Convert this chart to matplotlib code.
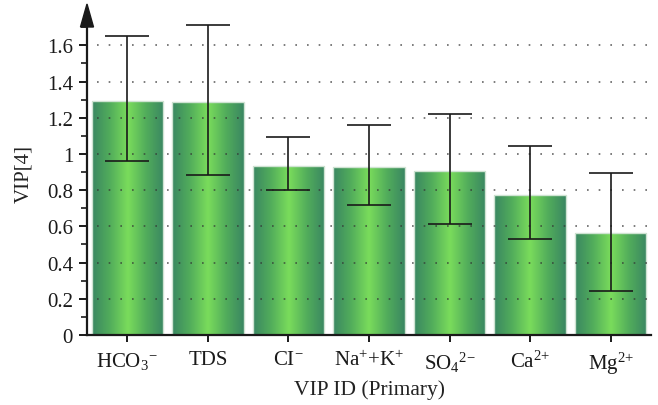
import numpy as np
import matplotlib
matplotlib.use("Agg")
import matplotlib.pyplot as plt
from matplotlib.colors import LinearSegmentedColormap
from matplotlib.patches import Polygon

plt.rcParams['font.family'] = ['Liberation Serif', 'DejaVu Serif']
plt.rcParams['mathtext.fontset'] = 'custom'
plt.rcParams['mathtext.rm'] = 'Liberation Serif'
plt.rcParams['mathtext.it'] = 'Liberation Serif:italic'
plt.rcParams['mathtext.default'] = 'regular'

categories = [r'HCO$_3$$^{{-}}$', 'TDS', r'CI$^{{-}}$', r'Na$^{{+}}$+K$^{{+}}$',
              r'SO$_4$$^{2{-}}$', r'Ca$^{2{+}}$', r'Mg$^{2{+}}$']
vip = [1.295, 1.288, 0.935, 0.930, 0.905, 0.772, 0.562]
err_upper = [1.650, 1.710, 1.092, 1.162, 1.222, 1.044, 0.895]
err_lower = [0.964, 0.883, 0.800, 0.718, 0.612, 0.530, 0.245]
yticks = [0, 0.2, 0.4, 0.6, 0.8, 1, 1.2, 1.4, 1.6]
ytick_labels = ['0', '0.2', '0.4', '0.6', '0.8', '1', '1.2', '1.4', '1.6']

fig = plt.figure(figsize=(6.58, 4.06), dpi=100)
ax = fig.add_axes([87/658, 1 - 336/406, (651 - 87)/658, (336 - 12)/406])

x = np.arange(len(categories))
width = 0.885
ymax = 1.79

# green gradient: dark at the edges, bright in the middle
cmap = LinearSegmentedColormap.from_list(
    'bar', ['#3a8762', '#52ad5b', '#7adc5c', '#52ad5b', '#3a8762'])
grad = np.linspace(0, 1, 256).reshape(1, -1)

for xi, h in zip(x, vip):
    rect = plt.Rectangle((xi - width/2, 0), width, h, facecolor='none',
                         edgecolor='#cfe3d2', linewidth=1.0, zorder=2)
    ax.add_patch(rect)
    im = ax.imshow(grad, cmap=cmap, aspect='auto', zorder=1.5,
                   extent=(xi - width/2, xi + width/2, 0, h))
    im.set_clip_path(rect)

# dotted horizontal grid
for yv in yticks[1:]:
    ax.plot([-0.38, 6.5], [yv, yv], linestyle=(0, (1, 6)), color='#333333',
            linewidth=1.2, alpha=0.75, zorder=2.5)

# error bars
yerr = [np.array(vip) - np.array(err_lower), np.array(err_upper) - np.array(vip)]
ax.errorbar(x, vip, yerr=yerr, fmt='none', ecolor='#1a1a1a', elinewidth=1.2,
            capsize=15.5, capthick=1.2, zorder=3)

ax.set_xlim(-0.5, 6.5)
ax.set_ylim(0, ymax)
ax.set_xticks(x)
ax.set_xticklabels(categories, fontsize=15)
ax.set_yticks(yticks)
ax.set_yticklabels(ytick_labels, fontsize=15)
ax.set_yticks(np.arange(0.1, 1.75, 0.2), minor=True)

for s in ['top', 'right']:
    ax.spines[s].set_visible(False)
for s in ['left', 'bottom']:
    ax.spines[s].set_linewidth(1.6)
    ax.spines[s].set_color('#1a1a1a')
ax.spines['left'].set_bounds(0, 1.72)

ax.tick_params(axis='y', which='major', direction='out', length=6, width=1.4,
               colors='#1a1a1a', pad=4)
ax.tick_params(axis='y', which='minor', direction='out', length=4, width=1.2,
               colors='#1a1a1a')
ax.tick_params(axis='x', which='major', direction='out', length=5, width=1.4,
               colors='#1a1a1a', pad=6)

# arrow head at the top of the y axis (drawn in pixel offsets)
trans = ax.transData
x0, y0 = trans.transform((-0.5, 0))
top_y = fig.bbox.height - 5
base_y = fig.bbox.height - 28
arrow = Polygon([[x0 - 6.5, base_y], [x0 + 6.5, base_y], [x0, top_y]],
                closed=True, transform=None, facecolor='#1a1a1a',
                edgecolor='#1a1a1a', clip_on=False, zorder=6)
fig.patches.append(arrow)

ax.set_ylabel('VIP[4]', fontsize=15, color='#222222', labelpad=10)
ax.set_xlabel('VIP ID (Primary)', fontsize=15.5, color='#222222', labelpad=2)

fig.savefig('out.png', dpi=100)
